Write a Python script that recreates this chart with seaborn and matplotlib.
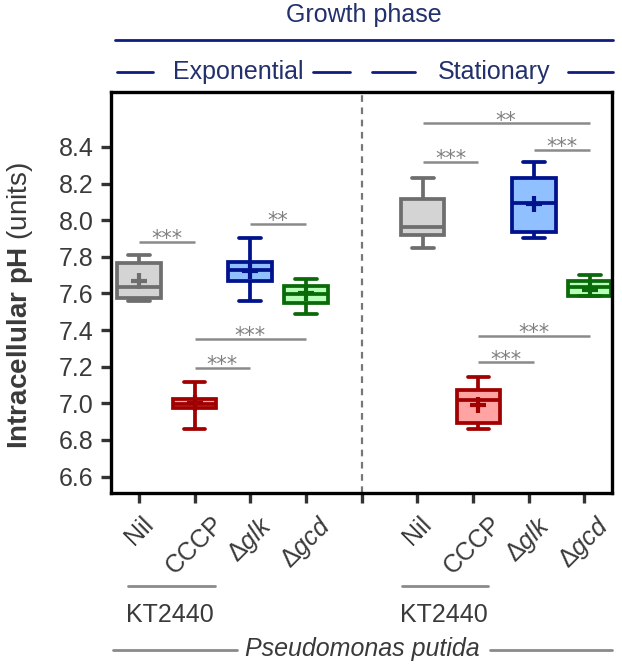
import numpy as np
import matplotlib.pyplot as plt
from matplotlib.lines import Line2D
import seaborn as sns

# -> Datos <-
# resumen de cinco numeros por grupo: bigote inferior, Q1, mediana, Q3, bigote superior
tick_labels = ["Nil", "CCCP", r"$\Delta\mathit{glk}$", r"$\Delta\mathit{gcd}$"]

exp_low = [7.56, 6.86, 7.56, 7.49]
exp_q1 = [7.573, 6.976, 7.67, 7.548]
exp_med = [7.637, 6.998, 7.728, 7.597]
exp_q3 = [7.766, 7.025, 7.773, 7.639]
exp_high = [7.81, 7.116, 7.90, 7.679]
exp_mean = [7.67, 7.00, 7.725, 7.60]

sta_low = [7.848, 6.862, 7.90, 7.585]
sta_q1 = [7.92, 6.894, 7.933, 7.588]
sta_med = [7.96, 7.02, 8.093, 7.633]
sta_q3 = [8.118, 7.074, 8.233, 7.666]
sta_high = [8.233, 7.143, 8.318, 7.70]
sta_mean = [np.nan, 6.99, 8.09, 7.62]

# brackets de significancia (extremos en posiciones de grupo)
sig_x1 = [0, 2, 1, 1, 5.1, 5.1, 7.1, 6.1, 6.1]
sig_x2 = [1, 3, 3, 2, 8.1, 6.1, 8.1, 8.1, 7.1]
sig_y = [7.882, 7.979, 7.352, 7.194, 8.529, 8.318, 8.384, 7.37, 7.225]
sig_txt = ["***", "**", "***", "***", "**", "***", "***", "***", "***"]

# -> Estilo <-
exp_pos = [0, 1, 2, 3]
sta_pos = [5.1, 6.1, 7.1, 8.1]
fills = ["#d4d4d4", "#ffa3a3", "#90c0ff", "#b8ffb8"]
edges = ["#6e6e6e", "#a00000", "#00128c", "#0a6a0a"]
navy_txt = "#22306b"
navy_line = "#101c80"
txt_gray = "#3a3a3a"
line_gray = "#8a8a8a"

sns.set_style("ticks")
plt.rcParams['font.family'] = ['Liberation Sans', 'DejaVu Sans']
plt.rcParams['mathtext.fontset'] = 'custom'
plt.rcParams['mathtext.rm'] = 'Liberation Sans'
plt.rcParams['mathtext.it'] = 'Liberation Sans:italic'
plt.rcParams['mathtext.bf'] = 'Liberation Sans:bold'

W, H = 622, 666


def fx(px):
    return px / W


def fy(py):
    return 1 - py / H


fig = plt.figure(figsize=(W / 100, H / 100), dpi=100)
ax = fig.add_axes([fx(111), fy(493), fx(612) - fx(111), fy(92) - fy(493)])

# -> Cajas <-
grupos = list(zip(exp_pos, exp_low, exp_q1, exp_med, exp_q3, exp_high, exp_mean, fills, edges)) + \
    list(zip(sta_pos, sta_low, sta_q1, sta_med, sta_q3, sta_high, sta_mean, fills, edges))

for pos, lo, q1, med, q3, hi, mean, fill, edge in grupos:
    valores = [lo, q1, med, q3, hi]
    sns.boxplot(x=[pos] * 5, y=valores, native_scale=True, orient="x", width=0.78,
                whis=(0, 100), color=fill, linecolor=edge, linewidth=2.7,
                saturation=1, ax=ax)
    if not np.isnan(mean):
        ax.plot([pos], [mean], marker="+", ms=11, mew=3, color=edge, zorder=5)

# -> Significancia <-
for x1, x2, y, t in zip(sig_x1, sig_x2, sig_y, sig_txt):
    ax.plot([x1, x2], [y, y], color=line_gray, lw=1.8, solid_capstyle="butt")
    ax.annotate(t, xy=((x1 + x2) / 2, y), xytext=(0, -2.5), textcoords="offset points",
                ha="center", va="baseline", fontsize=15, color="#808080",
                family="DejaVu Sans")

# divisor entre fases
ax.axvline(4, color="#777777", lw=1.6, ls=(0, (3, 2.5)))

# -> Ejes <-
ax.set_xlim(-0.5, 8.5)
ax.set_ylim(6.51, 8.70)
ax.set_yticks([6.6, 6.8, 7.0, 7.2, 7.4, 7.6, 7.8, 8.0, 8.2, 8.4])
ax.set_yticklabels(["6.6", "6.8", "7.0", "7.2", "7.4", "7.6", "7.8", "8.0", "8.2", "8.4"])
ax.set_xticks(range(9))
# etiquetas rotadas y centradas bajo cada marca
ax.set_xticklabels(tick_labels + [""] + tick_labels, rotation=45, ha="center")
ax.set_xlabel("")
ax.set_ylabel("")
ax.tick_params(axis="both", length=7.5, width=2.4, color="#333333", labelsize=18,
               labelcolor=txt_gray, pad=5)
ax.tick_params(axis="x", pad=6)
for sp in ax.spines.values():
    sp.set_linewidth(2.4)
    sp.set_color("black")

fig.text(fx(20), fy(305), r"$\mathbf{Intracellular\ pH}$ (units)", rotation=90,
         ha="center", va="center", fontsize=20, color=txt_gray)

# -> Encabezados <-
def linea(x1, x2, y, color, lw=2.0):
    fig.add_artist(Line2D([fx(x1), fx(x2)], [fy(y), fy(y)], color=color, lw=lw,
                          transform=fig.transFigure))


fig.text(fx(364), fy(15), "Growth phase", ha="center", va="center", fontsize=18, color=navy_txt)
linea(115, 613, 40, navy_line)
fig.text(fx(238), fy(72), "Exponential", ha="center", va="center", fontsize=18, color=navy_txt)
fig.text(fx(494), fy(72), "Stationary", ha="center", va="center", fontsize=18, color=navy_txt)
for x1, x2 in [(117, 153), (313, 350), (372, 415), (568, 613)]:
    linea(x1, x2, 72, navy_line)

# -> Anotaciones inferiores <-
linea(128, 215, 586, line_gray)
linea(402, 488, 586, line_gray)
fig.text(fx(170), fy(615), "KT2440", ha="center", va="center", fontsize=18, color=txt_gray)
fig.text(fx(444), fy(615), "KT2440", ha="center", va="center", fontsize=18, color=txt_gray)
fig.text(fx(362), fy(649), "Pseudomonas putida", ha="center", va="center", fontsize=18,
         style="italic", color=txt_gray)
linea(113, 237, 650, line_gray)
linea(490, 612, 650, line_gray)

plt.savefig("out.png", dpi=100)
